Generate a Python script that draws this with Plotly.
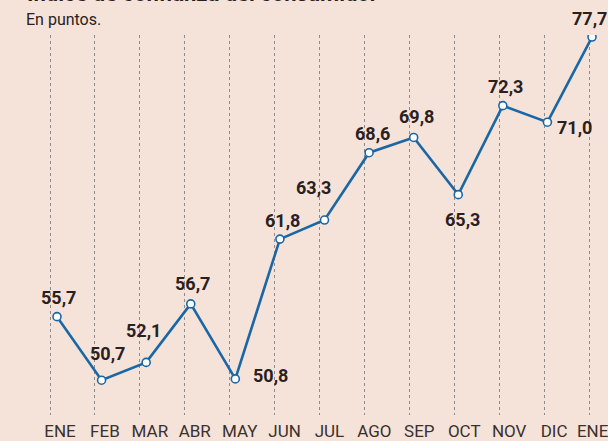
import plotly.graph_objects as go

months = ["ENE", "FEB", "MAR", "ABR", "MAY", "JUN", "JUL", "AGO", "SEP", "OCT", "NOV", "DIC", "ENE"]
values = [55.7, 50.7, 52.1, 56.7, 50.8, 61.8, 63.3, 68.6, 69.8, 65.3, 72.3, 71.0, 77.7]
labels = ["55,7", "50,7", "52,1", "56,7", "50,8", "61,8", "63,3", "68,6", "69,8", "65,3", "72,3", "71,0", "77,7"]

# label offsets in pixels (style)
label_dx = [2, 6, -3, 2, 35, 3, -11, 3, 3, 4, 3, 27, -3]
label_dy = [19, 27, 32, 20, 3, 19, 33, 19, 21, -25, 19, -5, 19]

BG = "#f5e3d9"
BLUE = "#1a67a6"
DARK = "#2a211e"
FONT = "Roboto, DejaVu Sans Condensed, sans-serif"

xs = list(range(len(values)))
# keep the last month label inside the right edge
tick_text = months[:-1] + [months[-1] + "\u00a0\u00a0\u00a0"]

fig = go.Figure()
fig.add_trace(go.Scatter(
    x=xs, y=values, mode="lines+markers",
    line=dict(color=BLUE, width=2.6),
    marker=dict(size=8, color="white", line=dict(color=BLUE, width=1.6)),
    hoverinfo="skip", showlegend=False,
))
# invisible trace to anchor gridline axis
fig.add_trace(go.Scatter(x=xs, y=values, xaxis="x2", mode="markers",
                         marker=dict(opacity=0), hoverinfo="skip", showlegend=False))

for i, (v, t) in enumerate(zip(values, labels)):
    fig.add_annotation(x=i, y=v, text=t, showarrow=False,
                       xanchor="center", yanchor="middle",
                       xshift=label_dx[i], yshift=label_dy[i],
                       font=dict(family=FONT, size=18, color=DARK, weight="bold"))

fig.add_annotation(xref="paper", yref="paper", x=-0.029, y=1.0, yshift=4,
                   xanchor="left", yanchor="bottom",
                   text="En puntos.", showarrow=False,
                   font=dict(family=FONT, size=16, color=DARK))
fig.add_annotation(xref="paper", yref="paper", x=-0.027, y=1.0, yshift=27,
                   xanchor="left", yanchor="bottom",
                   text="Índice de confianza del consumidor", showarrow=False,
                   font=dict(family=FONT, size=22, color=DARK, weight="bold"))

fig.update_layout(
    width=608, height=441,
    margin=dict(l=40, r=8, t=35, b=26, autoexpand=False),
    paper_bgcolor=BG, plot_bgcolor=BG,
    xaxis=dict(range=[-0.381, 12.179], showgrid=False, zeroline=False,
               showticklabels=False, showline=False, ticks="", automargin=False),
    xaxis2=dict(range=[-0.2226, 12.245], overlaying="x", side="bottom", anchor="y",
                tickmode="array", tickvals=xs, ticktext=tick_text,
                showgrid=True, griddash="dot", gridcolor="#8f8a87", gridwidth=1,
                zeroline=False, showline=False, ticks="", automargin=False,
                ticklabelshift=10, ticklabelstandoff=4, ticklabeloverflow="allow",
                tickfont=dict(family=FONT, size=17, color="#3a302c")),
    yaxis=dict(range=[47.96, 77.86], showgrid=False, zeroline=False,
               showticklabels=False, showline=False, ticks="", automargin=False),
)

fig.write_html("out.html", config={"displayModeBar": False},
               post_script="document.body.style.margin='0';document.body.style.overflow='hidden';")
